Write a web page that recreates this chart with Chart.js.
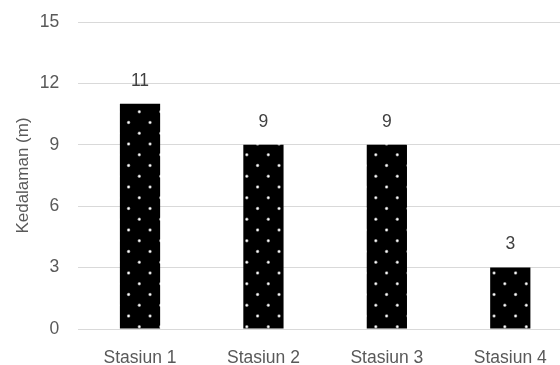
<!DOCTYPE html>
<html>
<head>
<meta charset="utf-8">
<script src="https://cdn.jsdelivr.net/npm/chart.js@4/dist/chart.umd.min.js"></script>
<style>
  html, body { margin: 0; padding: 0; background: #fff; width: 560px; height: 365px; overflow: hidden; }
  #wrap { position: relative; width: 572px; height: 365px; }
</style>
</head>
<body>
<div id="wrap"><canvas id="c"></canvas></div>
<script>
const categories = ["Stasiun 1", "Stasiun 2", "Stasiun 3", "Stasiun 4"];
const depthValues = [11, 9, 9, 3];
const yTicks = [0, 3, 6, 9, 12, 15];
const yTitle = "Kedalaman (m)";

function makeDotPattern() {
  const T = 43;
  const cv = document.createElement('canvas');
  cv.width = T; cv.height = T;
  const g = cv.getContext('2d');
  g.fillStyle = '#000';
  g.fillRect(0, 0, T, T);
  const ox = 139.3 % T, oy = 111.7 % T;
  const s = T / 4;
  const pts = [];
  for (let i = 0; i < 4; i++) for (let j = 0; j < 4; j++) {
    if ((i + j) % 2 === 0) pts.push([ox + i * s, oy + j * s]);
  }
  pts.forEach(([px, py]) => {
    for (let dx = -T; dx <= T; dx += T) for (let dy = -T; dy <= T; dy += T) {
      const x = ((px % T) + T) % T + dx, y = ((py % T) + T) % T + dy;
      g.fillStyle = 'rgba(150,150,150,0.95)';
      g.beginPath(); g.arc(x, y, 1.7, 0, Math.PI * 2); g.fill();
      g.fillStyle = '#ffffff';
      g.beginPath(); g.arc(x, y, 1.0, 0, Math.PI * 2); g.fill();
    }
  });
  return document.getElementById('c').getContext('2d').createPattern(cv, 'repeat');
}

const valueLabels = {
  id: 'valueLabels',
  afterDatasetsDraw(chart) {
    const ctx = chart.ctx;
    const meta = chart.getDatasetMeta(0);
    ctx.save();
    ctx.font = '17.5px "Liberation Sans", Arial, sans-serif';
    ctx.fillStyle = '#404040';
    ctx.textAlign = 'center';
    ctx.textBaseline = 'middle';
    meta.data.forEach((bar, i) => {
      ctx.fillText(String(depthValues[i]), bar.x, bar.y - 23);
    });
    ctx.restore();
  }
};

const pattern = makeDotPattern();

new Chart(document.getElementById('c'), {
  type: 'bar',
  data: {
    labels: categories,
    datasets: [{
      data: depthValues,
      backgroundColor: pattern,
      borderWidth: 0,
      barPercentage: 0.326,
      categoryPercentage: 1.0
    }]
  },
  options: {
    responsive: true,
    maintainAspectRatio: false,
    animation: false,
    devicePixelRatio: 1,
    layout: { padding: { top: 22, left: 0, right: 0, bottom: 0 } },
    plugins: { legend: { display: false }, tooltip: { enabled: false } },
    scales: {
      x: {
        grid: { display: false, drawTicks: false },
        border: { display: false },
        ticks: {
          color: '#595959',
          font: { family: '"Liberation Sans", Arial, sans-serif', size: 17.5 },
          padding: 19,
          maxRotation: 0
        },
        afterFit(scale) { scale.height = 36; }
      },
      y: {
        min: 0, max: 15,
        afterBuildTicks(scale) { scale.ticks = yTicks.map(v => ({ value: v })); },
        grid: { color: '#d9d9d9', lineWidth: 1, drawTicks: true, tickLength: 19, tickColor: 'rgba(0,0,0,0)' },
        border: { display: false },
        ticks: {
          color: '#595959',
          font: { family: '"Liberation Sans", Arial, sans-serif', size: 17.5 },
          padding: 0
        },
        title: {
          display: true,
          text: yTitle,
          color: '#595959',
          font: { family: '"Liberation Sans", Arial, sans-serif', size: 17 },
          padding: { top: 13, bottom: 0 }
        },
        afterFit(scale) { scale.width = 78.3; }
      }
    }
  },
  plugins: [valueLabels]
});
</script>
</body>
</html>
